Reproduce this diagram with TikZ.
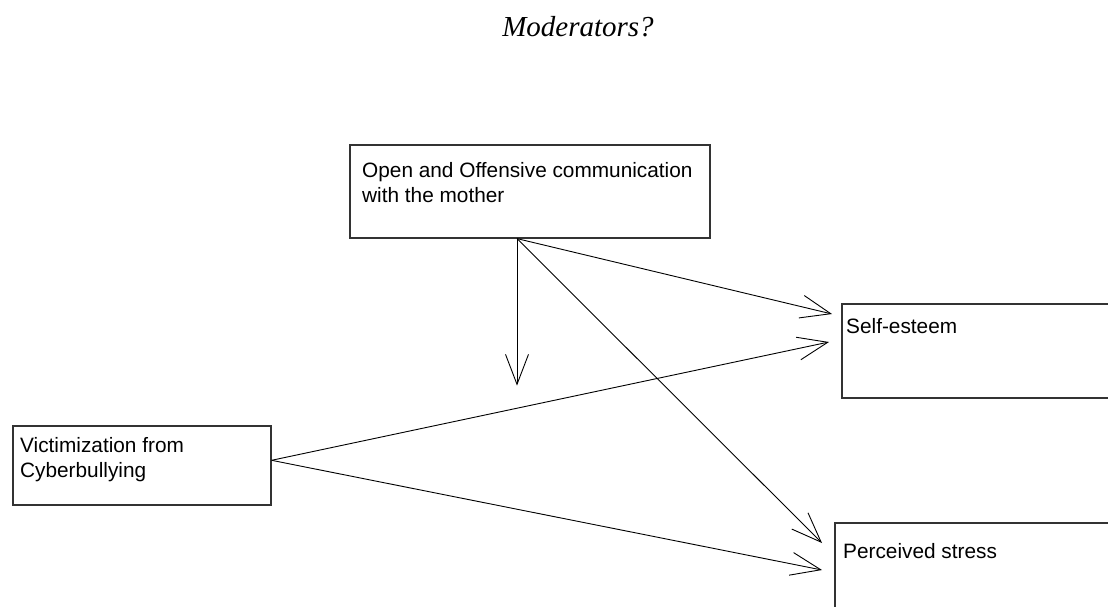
\documentclass[tikz,border=0pt]{standalone}
\usepackage{fontspec}
\setmainfont{Liberation Sans}
\newfontfamily\titlefont{Liberation Serif}
\usetikzlibrary{arrows.meta,calc}
\begin{document}
\begin{tikzpicture}[x=1pt,y=-1pt,
  boxshape/.style={draw=black!80,line width=1.6pt,inner sep=0pt,anchor=north west},
  boxtext/.style={anchor=base west,inner sep=0pt,font=\fontsize{20.8}{25}\selectfont,align=left},
  link/.style={line width=0.9pt,-{Straight Barb[length=30pt,width=23pt,line width=0.9pt]}}]
\useasboundingbox (0,0) rectangle (1108,606);
% title
\node[anchor=base,inner sep=0pt,font=\titlefont\itshape\fontsize{29}{34}\selectfont] (title) at (578,36) {Moderators?};
% boxes
\node[boxshape,minimum width=360pt,minimum height=93pt] (top) at (349,144) {};
\node[boxshape,minimum width=290pt,minimum height=94pt] (self) at (841,303) {};
\node[boxshape,minimum width=290pt,minimum height=110pt] (stress) at (834,522) {};
\node[boxshape,minimum width=258pt,minimum height=79pt] (vic) at (12,425) {};
% texts
\node[boxtext] (toptext) at (362,177) {Open and Offensive communication};
\node[boxtext] (toptext2) at (362,202) {with the mother};
\node[boxtext] (selftext) at (846,333) {Self-esteem};
\node[boxtext] (stresstext) at (843,558) {Perceived stress};
\node[boxtext] (victext) at (20,452) {Victimization from};
\node[boxtext] (victext2) at (20,477) {Cyberbullying};
% connector points
\coordinate (topout) at ($(top.south west)+(168,0)$);
\coordinate (vicout) at ($(vic.east)+(0,-5)$);
\coordinate (midtip) at ($(topout)+(0,147)$);
\coordinate (selftipA) at ($(self.north west)+(-9,11)$);
\coordinate (selftipB) at ($(self.north west)+(-12,39)$);
\coordinate (stresstipA) at ($(stress.north west)+(-12,21)$);
\coordinate (stresstipB) at ($(stress.north west)+(-12,48)$);
% connectors
\draw[link] (topout) -- (midtip);
\draw[link] (topout) -- (selftipA);
\draw[link] (topout) -- (stresstipA);
\draw[link] (vicout) -- (selftipB);
\draw[link] (vicout) -- (stresstipB);
\end{tikzpicture}
\end{document}
